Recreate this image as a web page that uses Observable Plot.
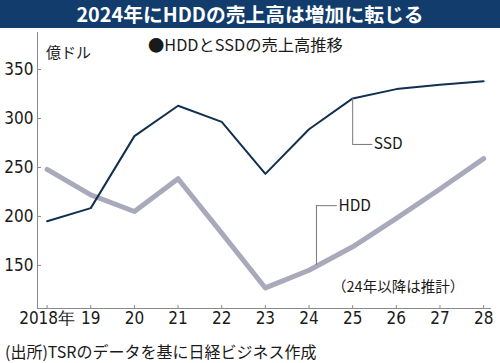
<!DOCTYPE html>
<html><head><meta charset="utf-8">
<script src="https://cdn.jsdelivr.net/npm/d3@7"></script>
<script src="https://cdn.jsdelivr.net/npm/@observablehq/plot@0.6"></script>
<style>
body{margin:0;background:#fff;}
#wrap{position:relative;width:500px;height:363px;overflow:hidden;font-family:"Noto Sans CJK JP","Noto Sans",sans-serif;color:#1a1a1a;}
#title{position:absolute;left:0;top:0;width:500px;height:28px;background:#113c6b;color:#fff;font-weight:bold;font-size:19.8px;line-height:28px;text-align:center;}
#sub{position:absolute;left:148px;top:34px;font-size:16.3px;line-height:20px;white-space:nowrap;}
#unit{position:absolute;left:46px;top:42px;font-size:15px;line-height:20px;white-space:nowrap;}
#chart{position:absolute;left:0;top:28px;}
#cap{position:absolute;left:5px;top:341px;font-size:16px;line-height:20px;white-space:nowrap;}
</style></head>
<body>
<div id="wrap">
  <div id="title"></div>
  <div id="chart"></div>
  <div id="unit"></div>
  <div id="sub"></div>
  <div id="cap"></div>
</div>
<script>
const titleText = "2024年にHDDの売上高は増加に転じる";
const subtitleText = "●HDDとSSDの売上高推移";
const unitText = "億ドル";
const captionText = "(出所)TSRのデータを基に日経ビジネス作成";
const noteText = "（24年以降は推計）";

const years = [2018, 2019, 2020, 2021, 2022, 2023, 2024, 2025, 2026, 2027, 2028];
const ssd = [195, 208.5, 282, 313, 296.5, 243.5, 289, 320.5, 330, 334.5, 338];
const hdd = [248, 222, 205, 238.5, 183, 127, 145, 169, 198, 228, 259];
const yTicks = [150, 200, 250, 300, 350];
const xDomain = [2017.78, 2028.18];
const yDomain = [106, 387.8];

// annotation anchors (data units)
const labelNames = ["SSD", "HDD"];
const leaderX = [2025, 2024.17];
const leaderFromY = [320.5, 150];
const leaderToY = [273.5, 211];
const labelX = [2025.46, 2024.65];
const noteX = 2026.04, noteY = 127.6;

document.getElementById("title").textContent = titleText;
document.getElementById("sub").textContent = subtitleText;
document.getElementById("unit").textContent = unitText;
document.getElementById("cap").textContent = captionText;

const ssdData = years.map((y, i) => ({year: y, v: ssd[i]}));
const hddData = years.map((y, i) => ({year: y, v: hdd[i]}));
const labels = labelNames.map((n, i) => ({n, x: leaderX[i], y1: leaderFromY[i], y2: leaderToY[i], lx: labelX[i]}));

const W = 500, H = 310, mt = 4, mb = 30, ml = 37, mr = 9;
const numFont = "'Liberation Sans Narrow','DejaVu Sans Condensed',sans-serif";
const axisColor = "#8a8a8a";

const plot = Plot.plot({
  width: W, height: H,
  marginTop: mt, marginBottom: mb, marginLeft: ml, marginRight: mr,
  x: {domain: xDomain, axis: null},
  y: {domain: yDomain, axis: null},
  style: {background: "transparent", overflow: "visible"},
  marks: [
    Plot.ruleX([xDomain[0]], {stroke: axisColor, strokeWidth: 1}),
    Plot.ruleY([yDomain[0]], {stroke: axisColor, strokeWidth: 1}),
    Plot.tickY(yTicks, {y: d => d, stroke: axisColor, insetRight: W - ml - mr - 4}),
    Plot.tickX(years, {x: d => d, stroke: axisColor, insetTop: H - mt - mb - 3}),
    Plot.text(yTicks, {y: d => d, frameAnchor: "left", dx: -4, textAnchor: "end", text: d => String(d), fontSize: 17, fontFamily: numFont, fill: "#1a1a1a"}),
    Plot.text(years, {x: d => d, frameAnchor: "bottom", dy: 15, text: d => d === 2018 ? "2018年" : String(d).slice(2), fontSize: 17, fontFamily: numFont, fill: "#1a1a1a"}),
    Plot.line(hddData, {x: "year", y: "v", stroke: "#a8a9bb", strokeWidth: 5, strokeLinecap: "round", strokeLinejoin: "round"}),
    Plot.line(ssdData, {x: "year", y: "v", stroke: "#11304f", strokeWidth: 2, strokeLinejoin: "round"}),
    Plot.ruleX(labels, {x: "x", y1: "y1", y2: "y2", stroke: "#777", strokeWidth: 1}),
    Plot.ruleY(labels, {y: "y2", x1: "x", x2: "lx", stroke: "#777", strokeWidth: 1}),
    Plot.text(labels, {x: "lx", y: "y2", text: "n", textAnchor: "start", dx: 1, fontSize: 15.5, fontFamily: "'Noto Sans CJK JP',sans-serif", fill: "#1a1a1a"}),
    Plot.text([noteText], {x: noteX, y: noteY, text: d => d, fontSize: 14.5, fontFamily: "'Noto Sans CJK JP',sans-serif", fill: "#1a1a1a"})
  ]
});
document.getElementById("chart").appendChild(plot);
</script>
</body></html>
